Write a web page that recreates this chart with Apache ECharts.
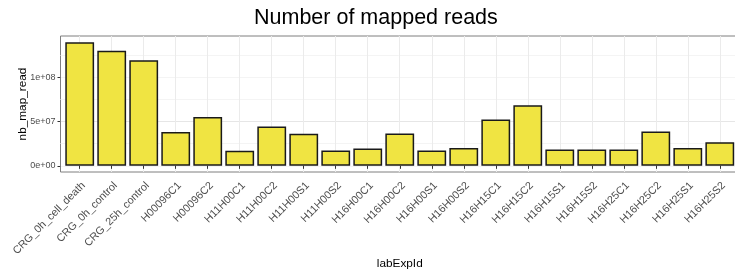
<!DOCTYPE html>
<html>
<head>
<meta charset="utf-8">
<script src="https://cdn.jsdelivr.net/npm/echarts@6/dist/echarts.min.js"></script>
<style>
  html, body { margin: 0; padding: 0; background: #fff; }
  #chart { width: 735px; height: 270px; }
</style>
</head>
<body>
<div id="chart"></div>
<script>
// 样本名
const labExpIds = [
  'CRG_0h_cell_death', 'CRG_0h_control', 'CRG_25h_control',
  'H00096C1', 'H00096C2', 'H11H00C1', 'H11H00C2', 'H11H00S1', 'H11H00S2',
  'H16H00C1', 'H16H00C2', 'H16H00S1', 'H16H00S2',
  'H16H15C1', 'H16H15C2', 'H16H15S1', 'H16H15S2',
  'H16H25C1', 'H16H25C2', 'H16H25S1', 'H16H25S2'
]
// 每个样本的 mapped reads 数
const nbMapRead = [
  1.396e8, 1.300e8, 1.192e8,
  3.83e7, 5.52e7, 1.69e7, 4.43e7, 3.61e7, 1.72e7,
  1.95e7, 3.64e7, 1.72e7, 2.00e7,
  5.22e7, 6.84e7, 1.84e7, 1.84e7,
  1.84e7, 3.87e7, 2.00e7, 2.67e7
]
// y 轴刻度
const yTicks = [0, 5e7, 1e8]

// ggplot 风格的 5% 扩展
const yMax = Math.max(...nbMapRead)
const yLo = -0.05 * yMax
const yHi = 1.05 * yMax
const nCat = labExpIds.length

const FONT = 'Liberation Sans'

// 0e+00 这种格式
function sci(v) {
  return v.toExponential(0).replace(/e([+-])(\d)$/, 'e$10$2')
}

const chart = echarts.init(document.getElementById('chart'))

const option = {
  animation: false,
  textStyle: { fontFamily: FONT },
  title: {
    text: 'Number of mapped reads',
    left: 254,
    top: 7,
    padding: 0,
    textStyle: { fontSize: 21.5, fontWeight: 'normal', color: '#000', fontFamily: FONT }
  },
  grid: [
    // 面板 (边框 + 网格线)
    {
      left: 60.5, right: -4, top: 36, bottom: 98,
      outerBoundsMode: 'none',
      show: true, borderColor: '#7f7f7f', borderWidth: 1, backgroundColor: '#fff'
    },
    // 柱子
    { left: 63.7, right: -0.8, top: 36, bottom: 98, outerBoundsMode: 'none' }
  ],
  xAxis: [
    {
      gridIndex: 0,
      type: 'value',
      min: -0.6,
      max: nCat - 1 + 0.6,
      minInterval: 1,
      maxInterval: 1,
      axisLine: { show: false },
      axisTick: { show: false },
      axisLabel: { show: false },
      splitLine: { show: true, showMinLine: false, showMaxLine: false, lineStyle: { color: '#ebebeb', width: 1 } }
    },
    {
      gridIndex: 1,
      type: 'category',
      data: labExpIds,
      name: 'labExpId',
      nameLocation: 'middle',
      nameGap: 86,
      nameMoveOverlap: false,
      nameTextStyle: { fontSize: 11.8, color: '#000' },
      axisLine: { show: false },
      axisTick: { show: true, alignWithLabel: true, length: 3, lineStyle: { color: '#333' } },
      axisLabel: {
        interval: 0, rotate: 45, fontSize: 10.8, color: '#4d4d4d', margin: 8,
        align: 'right', verticalAlign: 'top'
      },
      splitLine: { show: false }
    }
  ],
  yAxis: [
    {
      // 次网格线
      gridIndex: 0,
      type: 'value',
      position: 'right',
      min: yLo,
      max: yHi,
      minInterval: 2.5e7,
      maxInterval: 2.5e7,
      axisLine: { show: false },
      axisTick: { show: false },
      axisLabel: { show: false },
      splitLine: { show: true, showMinLine: false, showMaxLine: false, lineStyle: { color: '#f4f4f4', width: 1 } }
    },
    {
      gridIndex: 0,
      type: 'value',
      position: 'left',
      min: yLo,
      max: yHi,
      minInterval: 5e7,
      maxInterval: 5e7,
      name: 'nb_map_read',
      nameLocation: 'middle',
      nameRotate: 90,
      nameGap: 32,
      nameMoveOverlap: false,
      nameTextStyle: { fontSize: 11.8, color: '#000' },
      axisLine: { show: false },
      axisTick: { show: true, length: 3, customValues: yTicks, lineStyle: { color: '#333' } },
      axisLabel: { customValues: yTicks, fontSize: 9, color: '#4d4d4d', margin: 5, formatter: sci },
      splitLine: { show: true, showMinLine: false, showMaxLine: false, lineStyle: { color: '#e6e6e6', width: 1 } }
    },
    {
      gridIndex: 1,
      type: 'value',
      min: yLo,
      max: yHi,
      show: false,
      splitLine: { show: false }
    }
  ],
  series: [
    {
      name: 'nb_map_read',
      type: 'bar',
      xAxisIndex: 1,
      yAxisIndex: 2,
      barWidth: '90%',
      data: nbMapRead,
      itemStyle: { color: '#f0e442', borderColor: '#1a1a1a', borderWidth: 1.5 }
    }
  ]
}

chart.setOption(option)
</script>
</body>
</html>
